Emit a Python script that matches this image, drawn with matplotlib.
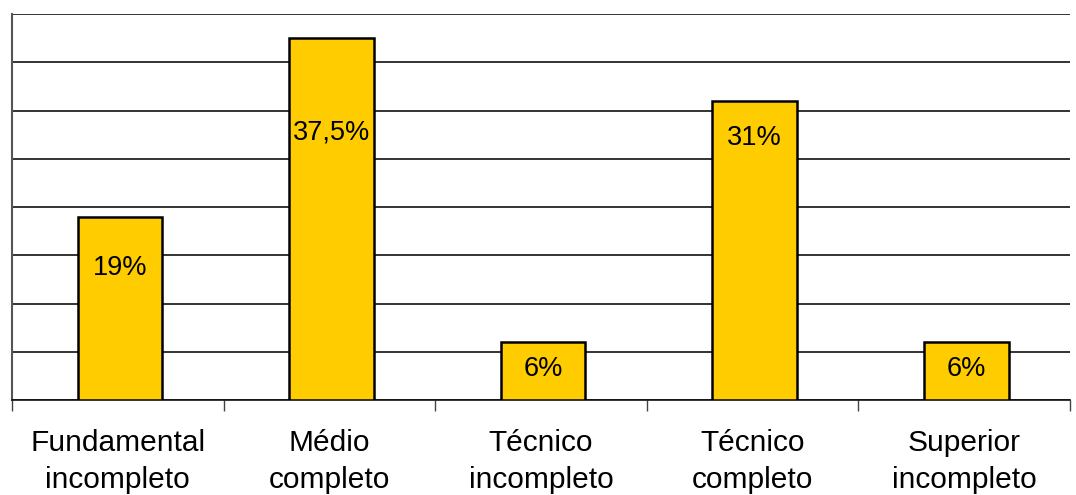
import matplotlib
matplotlib.use("Agg")
import matplotlib.pyplot as plt
from matplotlib.ticker import MultipleLocator, FixedLocator, NullFormatter

plt.rcParams['font.family'] = ['Liberation Sans', 'DejaVu Sans']

categories = ["Fundamental\nincompleto", "Médio\ncompleto", "Técnico\nincompleto",
              "Técnico\ncompleto", "Superior\nincompleto"]
values = [19, 37.5, 6, 31, 6]
labels = ["19%", "37,5%", "6%", "31%", "6%"]
label_y = [13.7, 27.7, 3.2, 27.2, 3.2]

W, H = 1076, 495
fig = plt.figure(figsize=(W / 100, H / 100), dpi=100)
ax = fig.add_axes([12 / W, 1 - 400 / H, (1070 - 12) / W, (400 - 14) / H])

x = list(range(len(categories)))
ax.bar([xi + 0.01 for xi in x], values, width=0.4, color="#FFCC00", edgecolor="black",
       linewidth=1.8, zorder=3)

for xi, t, ly in zip(x, labels, label_y):
    ax.text(xi + 0.01, ly, t, ha="center", va="center", fontsize=19.5, color="black", zorder=4)

ax.set_xlim(-0.5, len(categories) - 0.5)
ax.set_ylim(0, 40)
ax.yaxis.set_major_locator(MultipleLocator(5))
ax.yaxis.set_major_formatter(NullFormatter())
ax.tick_params(axis="y", length=0)
ax.grid(axis="y", color="#111111", linewidth=1.2, zorder=1)
ax.set_axisbelow(True)

ax.xaxis.set_major_locator(FixedLocator(x))
ax.set_xticklabels(categories, fontsize=21.5, linespacing=1.38)
ax.tick_params(axis="x", length=0, pad=21)
ax.xaxis.set_minor_locator(FixedLocator([i - 0.5 for i in range(len(categories) + 1)]))
ax.tick_params(axis="x", which="minor", length=8, width=1, color="#444444", direction="out")

for s in ["top", "right"]:
    ax.spines[s].set_visible(False)
ax.spines["left"].set_color("#555555")
ax.spines["left"].set_linewidth(1.5)
ax.spines["bottom"].set_color("#111111")
ax.spines["bottom"].set_linewidth(1.2)

fig.savefig("out.png", dpi=100, facecolor="white")
